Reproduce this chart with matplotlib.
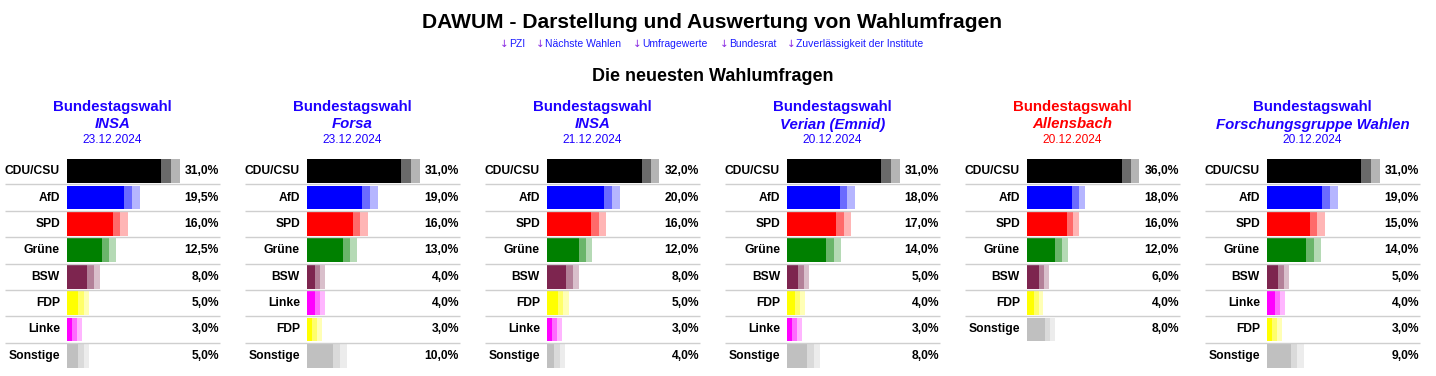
"""DAWUM: die neuesten Wahlumfragen als kleine Balkenpanels."""

import matplotlib
matplotlib.use("Agg")
import matplotlib.pyplot as plt

plt.rcParams["font.family"] = ["Liberation Sans", "DejaVu Sans"]

# ---------------------------------------------------------------------------
# Daten
# ---------------------------------------------------------------------------
institutes = ["INSA", "Forsa", "INSA", "Verian (Emnid)", "Allensbach",
              "Forschungsgruppe Wahlen"]
dates = ["23.12.2024", "23.12.2024", "21.12.2024", "20.12.2024",
         "20.12.2024", "20.12.2024"]

parties_1 = ["CDU/CSU", "AfD", "SPD", "Grüne", "BSW", "FDP", "Linke", "Sonstige"]
values_1 = [31.0, 19.5, 16.0, 12.5, 8.0, 5.0, 3.0, 5.0]
margin_1 = [2.7, 2.4, 2.25, 2.1, 1.9, 1.65, 1.5, 1.65]

parties_2 = ["CDU/CSU", "AfD", "SPD", "Grüne", "BSW", "Linke", "FDP", "Sonstige"]
values_2 = [31.0, 19.0, 16.0, 13.0, 4.0, 4.0, 3.0, 10.0]
margin_2 = [2.7, 2.4, 2.25, 2.1, 1.5, 1.5, 1.5, 2.1]

parties_3 = ["CDU/CSU", "AfD", "SPD", "Grüne", "BSW", "FDP", "Linke", "Sonstige"]
values_3 = [32.0, 20.0, 16.0, 12.0, 8.0, 5.0, 3.0, 4.0]
margin_3 = [2.75, 2.45, 2.3, 2.0, 2.0, 1.7, 1.5, 1.7]

parties_4 = ["CDU/CSU", "AfD", "SPD", "Grüne", "BSW", "FDP", "Linke", "Sonstige"]
values_4 = [31.0, 18.0, 17.0, 14.0, 5.0, 4.0, 3.0, 8.0]
margin_4 = [2.7, 2.25, 2.25, 2.25, 1.65, 1.5, 1.5, 1.95]

parties_5 = ["CDU/CSU", "AfD", "SPD", "Grüne", "BSW", "FDP", "Sonstige"]
values_5 = [36.0, 18.0, 16.0, 12.0, 6.0, 4.0, 8.0]
margin_5 = [2.95, 2.25, 2.25, 2.1, 1.7, 1.55, 1.9]

parties_6 = ["CDU/CSU", "AfD", "SPD", "Grüne", "BSW", "Linke", "FDP", "Sonstige"]
values_6 = [31.0, 19.0, 15.0, 14.0, 5.0, 4.0, 3.0, 9.0]
margin_6 = [2.7, 2.4, 2.25, 2.25, 1.7, 1.5, 1.5, 1.95]

panels = [
    (parties_1, values_1, margin_1),
    (parties_2, values_2, margin_2),
    (parties_3, values_3, margin_3),
    (parties_4, values_4, margin_4),
    (parties_5, values_5, margin_5),
    (parties_6, values_6, margin_6),
]

links = ["PZI", "Nächste Wahlen", "Umfragewerte", "Bundesrat",
         "Zuverlässigkeit der Institute"]

# ---------------------------------------------------------------------------
# Farben
# ---------------------------------------------------------------------------
PARTY_COLORS = {
    "CDU/CSU": "#000000",
    "AfD": "#0000ff",
    "SPD": "#ff0000",
    "Grüne": "#008000",
    "BSW": "#7d254f",
    "FDP": "#ffff00",
    "Linke": "#ff00ff",
    "Sonstige": "#c0c0c0",
}
HEAD_BLUE = "#1e00ff"
HEAD_RED = "#ff0000"
LINK_BLUE = "#1a1aff"
ARROW_PURPLE = "#8a2be2"
LINE_GREY = "#cfcfcf"

# ---------------------------------------------------------------------------
# Layout (Pixel)
# ---------------------------------------------------------------------------
W, H = 1436, 376
fig = plt.figure(figsize=(W / 100, H / 100), dpi=100)


def fx(px):
    return px / W


def fy(py):
    return 1 - py / H


fig.text(fx(712.5), fy(28.5), "DAWUM - Darstellung und Auswertung von Wahlumfragen",
         ha="center", va="baseline", fontsize=15.1, fontweight="bold")

# Linkzeile
link_x = [502, 538, 635, 722, 789]
for x, name in zip(link_x, links):
    fig.text(fx(x + 2), fy(47), "↓", ha="center", va="baseline", fontsize=7.5,
             color=ARROW_PURPLE, family=["DejaVu Sans"])
    fig.text(fx(x + 7), fy(47), name, ha="left", va="baseline", fontsize=7.5,
             color=LINK_BLUE)

fig.text(fx(712.5), fy(81), "Die neuesten Wahlumfragen",
         ha="center", va="baseline", fontsize=13.0, fontweight="bold")

PANEL_STEP = 240
BAR_LEFT = 67
AX_W = 153
ROW_TOP, ROW_BOTTOM = 158, 369
MAX_BAR_PX = 103.5

for i, (parties, values, margins) in enumerate(panels):
    off = i * PANEL_STEP
    cx = 112.5 + off
    head_color = HEAD_RED if institutes[i] == "Allensbach" else HEAD_BLUE
    fig.text(fx(cx), fy(111.5), "Bundestagswahl", ha="center", va="baseline",
             fontsize=10.8, fontweight="bold", color=head_color)
    fig.text(fx(cx), fy(128.5), institutes[i], ha="center", va="baseline",
             fontsize=10.8, fontweight="bold", style="italic", color=head_color)
    fig.text(fx(cx), fy(143), dates[i], ha="center", va="baseline",
             fontsize=8.6, color=head_color)

    ax = fig.add_axes([fx(BAR_LEFT + off), fy(ROW_BOTTOM), AX_W / W,
                       (ROW_BOTTOM - ROW_TOP) / H])
    vmax = max(values)
    ax.set_xlim(0, vmax * AX_W / MAX_BAR_PX)
    ax.set_ylim(7.5, -0.5)
    ax.axis("off")

    rows = list(range(len(parties)))
    colors = [PARTY_COLORS[p] for p in parties]
    ax.barh(rows, values, height=0.9, color=colors, linewidth=0)
    # Fehlerbereich: heller Teil innerhalb, blasser Teil ausserhalb des Balkens
    lo = [v - m for v, m in zip(values, margins)]
    ax.barh(rows, margins, left=lo, height=0.9, color="white", alpha=0.42,
            linewidth=0)
    ax.barh(rows, margins, left=values, height=0.9, color=colors, alpha=0.29,
            linewidth=0)

    ax.hlines([r + 0.5 for r in rows[:-1]], -62 / AX_W, 1.0,
              transform=ax.get_yaxis_transform(), colors=LINE_GREY,
              linewidth=1.0, clip_on=False)

    for r, (p, v) in enumerate(zip(parties, values)):
        ax.text(-7 / AX_W, r, p, transform=ax.get_yaxis_transform(),
                ha="right", va="center", fontsize=8.7, fontweight="bold")
        ax.text(152 / AX_W, r, f"{v:.1f}%".replace(".", ","),
                transform=ax.get_yaxis_transform(), ha="right", va="center",
                fontsize=8.7, fontweight="bold")

fig.savefig("out.png", dpi=100)
plt.close(fig)
